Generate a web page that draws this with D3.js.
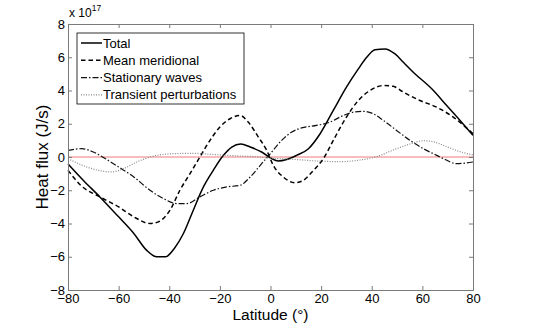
<!DOCTYPE html>
<html>
<head>
<meta charset="utf-8">
<script src="https://cdn.jsdelivr.net/npm/d3@7"></script>
<style>
  body { margin: 0; background: #fff; }
  text { font-family: "Liberation Sans", Arial, sans-serif; }
</style>
</head>
<body>
<div id="chart"></div>
<script>
// data, in units of 1e17 J/s
var latTotal = [-80, -74, -67.4, -60, -54, -49, -45, -41.4, -38, -34.4, -30.5, -26.5, -22.6, -18.6, -15.3, -11.8, -8, -3.5, 0.5, 3, 6.4, 10.3, 15, 19.6, 24.8, 30, 34.7, 38, 41.3, 45.2, 49.2, 52.5, 56.4, 63.7, 69.6, 74.9, 80];
var total = [-0.42, -1.4, -2.4, -3.6, -4.6, -5.6, -6.0, -6.0, -5.5, -4.6, -3.2, -1.8, -0.8, 0.1, 0.6, 0.78, 0.6, 0.3, -0.1, -0.24, -0.15, 0.1, 0.5, 1.4, 2.8, 4.2, 5.3, 6.0, 6.45, 6.5, 6.2, 5.7, 5.1, 4.1, 3.1, 2.2, 1.3];

var latMean = [-80, -75, -67.4, -60, -54, -47.6, -44.3, -39.7, -35.8, -31.8, -27.9, -23.9, -20, -16, -12, -8.8, -4.8, -1.5, 1.1, 5, 9.7, 13, 17, 20.9, 24.8, 30, 34.7, 39.3, 44.6, 48.5, 52.5, 59, 65.6, 72.2, 80];
var meanMeridional = [-0.8, -1.7, -2.4, -3.0, -3.6, -4.0, -3.9, -3.2, -2.0, -1.0, 0, 1.0, 1.8, 2.3, 2.5, 2.1, 1.2, 0.4, -0.5, -1.2, -1.55, -1.4, -0.8, -0.1, 1.0, 2.4, 3.4, 4.0, 4.3, 4.25, 3.9, 3.4, 3.0, 2.4, 1.4];

var latStat = [-80, -74.6, -70, -64.7, -60, -54, -47.6, -42.3, -37, -33, -27.9, -22.6, -17.3, -12, -8, -3.5, 0.5, 4.4, 8.4, 12.3, 18.2, 23.5, 28.8, 32.7, 36.7, 40.6, 44.6, 49.8, 55.1, 60.4, 64.3, 68.3, 73.6, 80];
var stationary = [0.4, 0.5, 0.3, -0.15, -0.6, -1.2, -2.0, -2.5, -2.8, -2.8, -2.4, -2.0, -1.8, -1.7, -1.2, -0.4, 0.3, 1.0, 1.5, 1.75, 1.9, 2.1, 2.5, 2.7, 2.75, 2.6, 2.2, 1.6, 1.0, 0.5, 0.2, -0.1, -0.4, -0.3];

var latTrans = [-80, -72.6, -67.4, -62.7, -58.1, -52.8, -46.3, -38.4, -30.5, -22.6, -14.7, -6.8, 1.1, 9, 18.2, 27.4, 35.4, 42, 48.5, 55.1, 60.4, 64.3, 69.6, 74.9, 80];
var transient = [-0.1, -0.6, -0.82, -0.9, -0.7, -0.3, 0.05, 0.2, 0.22, 0.15, 0.08, 0.02, -0.08, -0.14, -0.24, -0.28, -0.18, 0.02, 0.42, 0.78, 0.98, 0.92, 0.62, 0.32, 0.12];

var xTicks = [-80, -60, -40, -20, 0, 20, 40, 60, 80];
var yTicks = [-8, -6, -4, -2, 0, 2, 4, 6, 8];

var seriesNames = ['Total', 'Mean meridional', 'Stationary waves', 'Transient perturbations'];

// layout
const W = 545, H = 327;
var margin = {top: 24, right: 72, bottom: 37, left: 68};
const width = W - margin.left - margin.right;
const height = H - margin.top - margin.bottom;

var svg = d3.select('#chart').append('svg')
    .attr('width', W).attr('height', H);

var g = svg.append('g').attr('transform', `translate(${margin.left},${margin.top})`);

var x = d3.scaleLinear().domain([-80, 80]).range([0, width]);
var y = d3.scaleLinear().domain([-8, 8]).range([height, 0]);

var axisColor = '#7a7a7a';

// zero line
g.append('line')
    .attr('x1', x(-80)).attr('x2', x(80))
    .attr('y1', y(0)).attr('y2', y(0))
    .attr('stroke', '#f4a6a6').attr('stroke-width', 1.3);

// series
var styles = [
    {lat: latTotal, val: total, color: '#000', dash: null, w: 1.5},
    {lat: latMean, val: meanMeridional, color: '#000', dash: '4.5,3', w: 1.5},
    {lat: latStat, val: stationary, color: '#111', dash: '6,2,1.5,2', w: 1.2},
    {lat: latTrans, val: transient, color: '#888', dash: '1,1.5', w: 1.2}
];

var line = d3.line()
    .x(d => x(d[0]))
    .y(d => y(d[1]))
    .curve(d3.curveMonotoneX);

styles.forEach(s => {
    g.append('path')
        .datum(s.lat.map((l, i) => [l, s.val[i]]))
        .attr('d', line)
        .attr('fill', 'none')
        .attr('stroke', s.color)
        .attr('stroke-width', s.w)
        .attr('stroke-dasharray', s.dash);
});

// axes (MATLAB style box with inward ticks)
var xAxis = g.append('g').attr('transform', `translate(0,${height})`)
    .call(d3.axisBottom(x).tickValues(xTicks).tickSize(-4).tickPadding(5)
        .tickFormat(d => d < 0 ? '\u2212' + Math.abs(d) : d));
var yAxis = g.append('g')
    .call(d3.axisLeft(y).tickValues(yTicks).tickSize(-4).tickPadding(3)
        .tickFormat(d => d < 0 ? '\u2212' + Math.abs(d) : d));
var xTop = g.append('g')
    .call(d3.axisTop(x).tickValues(xTicks).tickSize(-4).tickFormat(''));
var yRight = g.append('g').attr('transform', `translate(${width},0)`)
    .call(d3.axisRight(y).tickValues(yTicks).tickSize(-4).tickFormat(''));

[xAxis, yAxis, xTop, yRight].forEach(a => {
    a.select('.domain').attr('stroke', axisColor);
    a.selectAll('.tick line').attr('stroke', axisColor);
    a.selectAll('.tick text')
        .style('font-size', '13px')
        .style('fill', '#000')
        .style('font-family', '"Liberation Sans", Arial, sans-serif');
});
xAxis.selectAll('.tick text').attr('dy', '0.6em');

// exponent label
var expo = svg.append('text')
    .attr('x', margin.left + 1).attr('y', 17)
    .style('font-size', '12px');
expo.append('tspan').text('x 10');
expo.append('tspan').text('17').attr('dy', -6).style('font-size', '8.5px');

// axis titles
svg.append('text')
    .attr('x', margin.left + width / 2).attr('y', 320)
    .attr('text-anchor', 'middle')
    .style('font-size', '15.5px')
    .text('Latitude (\u00b0)');

svg.append('text')
    .attr('transform', `translate(48,${margin.top + height / 2}) rotate(-90)`)
    .attr('text-anchor', 'middle')
    .style('font-size', '17px')
    .text('Heat flux (J/s)');

// legend
var legend = svg.append('g').attr('transform', 'translate(77,33)');
legend.append('rect')
    .attr('width', 167).attr('height', 71)
    .attr('fill', '#fff').attr('stroke', '#000').attr('stroke-width', 0.8);

var items = legend.selectAll('.item')
    .data(seriesNames)
    .enter().append('g')
    .attr('class', 'item')
    .attr('transform', (d, i) => `translate(0,${10 + i * 17.3})`);

items.append('line')
    .attr('x1', 4).attr('x2', 25)
    .attr('y1', 0).attr('y2', 0)
    .attr('stroke', (d, i) => styles[i].color)
    .attr('stroke-width', (d, i) => styles[i].w)
    .attr('stroke-dasharray', (d, i) => styles[i].dash);

items.append('text')
    .attr('x', 26).attr('y', 0).attr('dy', '0.35em')
    .style('font-size', '13px')
    .text(d => d);
</script>
</body>
</html>
